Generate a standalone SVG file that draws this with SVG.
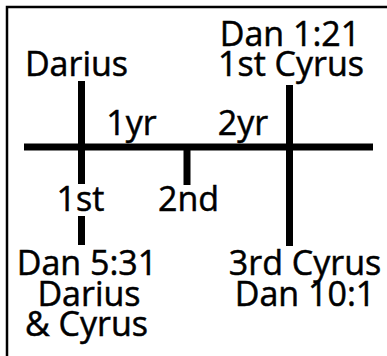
<svg xmlns="http://www.w3.org/2000/svg" width="387" height="356" viewBox="0 0 387 356">
<style>
.t{font-family:"Open Sans","Liberation Sans",sans-serif;font-size:34px;fill:#000;stroke:#000;stroke-width:0.5;text-anchor:middle}
.ln{stroke:#000;stroke-width:7;fill:none;stroke-linecap:butt}
.fr{stroke:#000;stroke-width:2.5;fill:none}
</style>
<rect x="0" y="0" width="387" height="356" fill="#fff"/>
<path class="fr" d="M7,356 V7 H387"/>
<g id="connectors">
<line class="ln" x1="24" y1="147" x2="373" y2="147"/>
<line class="ln" x1="81.5" y1="81" x2="81.5" y2="184"/>
<line class="ln" x1="81.5" y1="216" x2="81.5" y2="245"/>
<line class="ln" x1="187" y1="147" x2="187" y2="185"/>
<line class="ln" x1="289.5" y1="85" x2="289.5" y2="246"/>
</g>
<g id="darius-top"><text class="t" x="76.5" y="76">Darius</text></g>
<g id="cyrus-top"><text class="t"><tspan x="290" y="46">Dan 1:21</tspan><tspan x="291" y="76">1st Cyrus</tspan></text></g>
<g id="yr1"><text class="t" x="131.5" y="135">1yr</text></g>
<g id="yr2"><text class="t" x="243" y="135">2yr</text></g>
<g id="first"><text class="t" x="80.5" y="211">1st</text></g>
<g id="second"><text class="t" x="188.5" y="211">2nd</text></g>
<g id="dan531"><text class="t"><tspan x="87" y="275">Dan 5:31</tspan><tspan x="89" y="306">Darius</tspan><tspan x="86.5" y="336">&amp; Cyrus</tspan></text></g>
<g id="cyrus-third"><text class="t"><tspan x="305" y="275">3rd Cyrus</tspan><tspan x="305" y="306">Dan 10:1</tspan></text></g>
</svg>
